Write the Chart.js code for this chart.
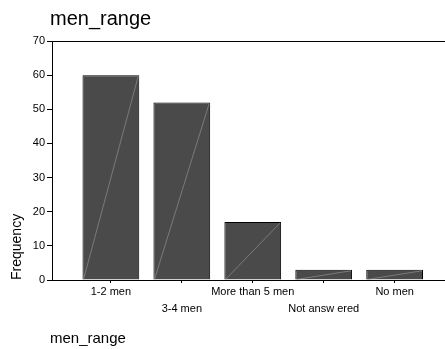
<!DOCTYPE html>
<html>
<head>
<meta charset="utf-8">
<script src="https://cdn.jsdelivr.net/npm/chart.js@4/dist/chart.umd.min.js"></script>
<style>
html,body{margin:0;padding:0;background:#fff;}
#wrap{width:445px;height:349px;position:relative;}
</style>
</head>
<body>
<div id="wrap"><canvas id="c" width="445" height="349"></canvas></div>
<script>
const chartTitle = 'men_range';
const xAxisTitle = 'men_range';
const yAxisTitle = 'Frequency';
const categories = ['1-2 men', '3-4 men', 'More than 5 men', 'Not answ ered', 'No men'];
const frequencies = [60, 52, 17, 3, 3];
const yTicks = [0, 10, 20, 30, 40, 50, 60, 70];

const FONT = '"Liberation Sans", Arial, sans-serif';

const extras = {
  id: 'extras',
  afterDatasetsDraw(chart) {
    const ctx = chart.ctx;
    const a = chart.chartArea;
    ctx.save();
    const meta = chart.getDatasetMeta(0);
    ctx.strokeStyle = '#9a9a9a';
    ctx.lineWidth = 0.6;
    meta.data.forEach(bar => {
      const p = bar.getProps(['x', 'y', 'base', 'width'], true);
      ctx.beginPath();
      ctx.moveTo(p.x - p.width / 2 + 1, p.base);
      ctx.lineTo(p.x + p.width / 2 - 1, p.y + 1);
      ctx.stroke();
    });
    ctx.strokeStyle = '#000';
    ctx.lineWidth = 1;
    ctx.beginPath();
    ctx.moveTo(a.left, a.top + 0.5);
    ctx.lineTo(a.right, a.top + 0.5);
    ctx.stroke();
    ctx.restore();
  },
  afterDraw(chart) {
    const ctx = chart.ctx;
    const a = chart.chartArea;
    ctx.save();
    ctx.fillStyle = '#000';
    ctx.textBaseline = 'alphabetic';
    ctx.textAlign = 'left';
    ctx.font = '20px ' + FONT;
    ctx.fillText(chartTitle, 50, 25);
    ctx.font = '15px ' + FONT;
    ctx.fillText(xAxisTitle, 50, 343);
    ctx.translate(21, a.bottom);
    ctx.rotate(-Math.PI / 2);
    ctx.font = '14px ' + FONT;
    ctx.fillText(yAxisTitle, 0, 0);
    ctx.restore();
  }
};

new Chart(document.getElementById('c'), {
  type: 'bar',
  data: {
    datasets: [{
      data: frequencies.map((v, i) => ({ x: i + 1, y: v })),
      backgroundColor: '#4a4a4a',
      borderColor: '#000',
      borderWidth: 1,
      categoryPercentage: 0.8,
      barPercentage: 1.0
    }]
  },
  options: {
    responsive: false,
    animation: false,
    layout: { padding: { top: 41, left: 0, right: 0, bottom: 0 } },
    plugins: { legend: { display: false }, tooltip: { enabled: false }, title: { display: false } },
    scales: {
      x: {
        type: 'linear',
        offset: false,
        min: 0.17,
        max: 5.71,
        afterBuildTicks: s => { s.ticks = categories.map((c, i) => ({ value: i + 1 })); },
        afterFit: s => { s.height = 69; },
        border: { display: true, color: '#000', width: 1 },
        grid: { offset: false, drawOnChartArea: false, drawTicks: true, tickLength: 3, color: '#000' },
        ticks: {
          autoSkip: false,
          maxRotation: 0,
          padding: 0,
          color: '#000',
          font: { family: FONT, size: 11, lineHeight: 1.55 },
          callback: v => {
            const i = Math.round(v) - 1;
            const c = categories[i];
            if (c === undefined) return '';
            return i % 2 === 0 ? [c, ''] : ['', c];
          }
        }
      },
      y: {
        min: 0,
        max: 70,
        afterBuildTicks: s => { s.ticks = yTicks.map(v => ({ value: v })); },
        afterFit: s => { s.width = 52; },
        border: { display: true, color: '#000', width: 1 },
        grid: { drawOnChartArea: false, drawTicks: true, tickLength: 5, color: '#000' },
        ticks: { padding: 2, color: '#000', font: { family: FONT, size: 11 } }
      }
    }
  },
  plugins: [extras]
});
</script>
</body>
</html>
